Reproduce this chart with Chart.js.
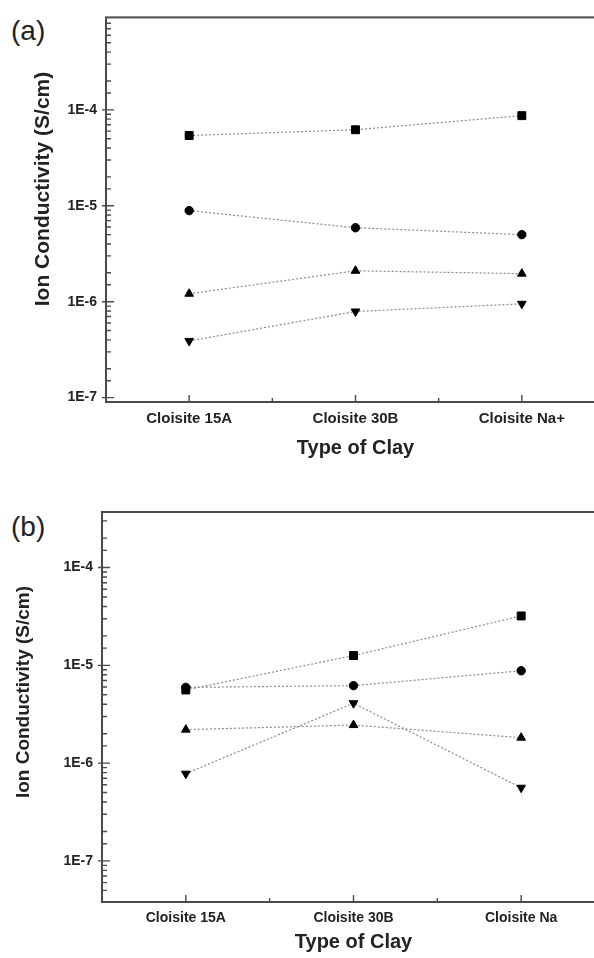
<!DOCTYPE html>
<html>
<head>
<meta charset="utf-8">
<script src="https://cdn.jsdelivr.net/npm/chart.js@4.4.1/dist/chart.umd.min.js"></script>
<style>
  body { margin: 0; background: #fff; overflow: hidden; width: 594px; height: 958px; position: relative; }
  canvas { position: absolute; left: 0; }
  .tag { position: absolute; left: 11px; font: 28px "Liberation Sans", Arial, sans-serif; color: #222; line-height: 28px; }
</style>
</head>
<body>
<div class="tag" style="top:17px">(a)</div>
<div class="tag" style="top:513px">(b)</div>
<canvas id="chartA" width="620" height="470" style="top:0"></canvas>
<canvas id="chartB" width="620" height="488" style="top:470px"></canvas>
<script>
// clay types on the x axis
const claysA = ['Cloisite 15A', 'Cloisite 30B', 'Cloisite Na+'];
const claysB = ['Cloisite 15A', 'Cloisite 30B', 'Cloisite Na'];

// panel (a), ion conductivity in S/cm
const squaresA = [5.4e-5, 6.2e-5, 8.7e-5];
const circlesA = [8.9e-6, 5.9e-6, 5.0e-6];
const trianglesUpA = [1.21e-6, 2.1e-6, 1.96e-6];
const trianglesDownA = [3.9e-7, 7.9e-7, 9.5e-7];

// panel (b)
const squaresB = [5.6e-6, 1.26e-5, 3.2e-5];
const circlesB = [5.95e-6, 6.2e-6, 8.8e-6];
const trianglesUpB = [2.2e-6, 2.45e-6, 1.82e-6];
const trianglesDownB = [7.8e-7, 4.1e-6, 5.6e-7];

// labelled decades on the log axis
const yTickValues = [1e-7, 1e-6, 1e-5, 1e-4];
const yTickLabels = ['1E-7', '1E-6', '1E-5', '1E-4'];

const yTitle = 'Ion Conductivity (S/cm)';
const xTitle = 'Type of Clay';

const FONT = '"Liberation Sans", Arial, sans-serif';
Chart.defaults.font.family = FONT;
Chart.defaults.color = '#222';

// box around the plot + inward tick marks + y title (sits above centre in the original)
const frame = {
  id: 'frame',
  beforeDatasetsDraw(chart, args, opts) {
    const {ctx, chartArea: a, scales: {x, y}} = chart;
    ctx.save();
    ctx.strokeStyle = '#4a4a4a';
    ctx.lineWidth = 2;
    ctx.strokeRect(a.left, a.top, a.right - a.left, a.bottom - a.top);
    ctx.lineWidth = 1.4;
    ctx.beginPath();
    y.ticks.forEach(t => {
      const py = y.getPixelForValue(t.value);
      if (py < a.top + 2 || py > a.bottom - 2) return;
      const e = Math.log10(t.value);
      const major = Math.abs(e - Math.round(e)) < 1e-6;
      ctx.moveTo(a.left - (major ? 4 : 0), py);
      ctx.lineTo(a.left + (major ? 8 : 5), py);
    });
    const n = x.ticks.length;
    for (let i = 0; i < n; i++) {
      const px = x.getPixelForValue(i);
      ctx.moveTo(px, a.bottom);
      ctx.lineTo(px, a.bottom - 7);
      if (i < n - 1) {
        const mx = (px + x.getPixelForValue(i + 1)) / 2;
        ctx.moveTo(mx, a.bottom);
        ctx.lineTo(mx, a.bottom - 4);
      }
    }
    ctx.stroke();

    ctx.translate(opts.titleX, opts.titleY);
    ctx.rotate(-Math.PI / 2);
    ctx.fillStyle = '#222';
    ctx.font = 'bold ' + opts.titleSize + 'px ' + FONT;
    ctx.textAlign = 'center';
    ctx.textBaseline = 'middle';
    ctx.fillText(yTitle, 0, 0);
    ctx.restore();
  }
};

function series(data, style, rotation, radius) {
  return {
    data: data,
    borderColor: '#8a8a8a',
    borderWidth: 1.2,
    borderDash: [2, 2],
    pointStyle: style,
    rotation: rotation,
    pointRadius: radius,
    pointBackgroundColor: '#000',
    pointBorderColor: '#000',
    pointBorderWidth: 1,
    fill: false,
    tension: 0
  };
}

function makeChart(id, labels, sets, o) {
  return new Chart(document.getElementById(id), {
    type: 'line',
    data: {
      labels: labels,
      datasets: [
        series(sets[0], 'rect', 0, 5.6),
        series(sets[1], 'circle', 0, 4.2),
        series(sets[2], 'triangle', 0, 5),
        series(sets[3], 'triangle', 180, 5)
      ]
    },
    options: {
      responsive: false,
      animation: false,
      layout: { padding: { left: o.padLeft, top: o.padTop, right: 15, bottom: o.padBottom } },
      plugins: {
        legend: { display: false },
        tooltip: { enabled: false },
        frame: { titleX: o.titleX, titleY: o.titleY, titleSize: o.titleSize }
      },
      scales: {
        x: {
          type: 'category',
          offset: true,
          grid: { display: false, drawTicks: false },
          border: { display: false },
          ticks: { font: { size: o.xTickSize, weight: 'bold' }, padding: 8, maxRotation: 0 },
          title: { display: true, text: xTitle, font: { size: 20, weight: 'bold' }, padding: 0 },
          afterFit(s) { s.height = o.xHeight; }
        },
        y: {
          type: 'logarithmic',
          min: o.min,
          max: o.max,
          grid: { display: false, drawTicks: false },
          border: { display: false },
          afterBuildTicks(s) { s.ticks = s.ticks.filter(t => t.value >= o.min && t.value <= o.max); },
          ticks: {
            autoSkip: false,
            padding: 9,
            font: { size: 14, weight: 'bold' },
            callback(v) {
              const i = yTickValues.findIndex(d => Math.abs(Math.log10(d) - Math.log10(v)) < 1e-6);
              return i >= 0 ? yTickLabels[i] : '';
            }
          },
          afterFit(s) { s.width = o.yWidth; }
        }
      }
    },
    plugins: [frame]
  });
}

makeChart('chartA', claysA, [squaresA, circlesA, trianglesUpA, trianglesDownA], {
  padLeft: 0, padTop: 15, padBottom: 10, xHeight: 58, yWidth: 106,
  titleX: 43, titleY: 189, titleSize: 21,
  min: 9e-8, max: 9.2e-4, xTickSize: 15
});

makeChart('chartB', claysB, [squaresB, circlesB, trianglesUpB, trianglesDownB], {
  padLeft: 0, padTop: 42, padBottom: 4, xHeight: 52, yWidth: 102,
  titleX: 24, titleY: 222, titleSize: 19,
  min: 3.8e-8, max: 3.7e-4, xTickSize: 14
});
</script>
</body>
</html>
